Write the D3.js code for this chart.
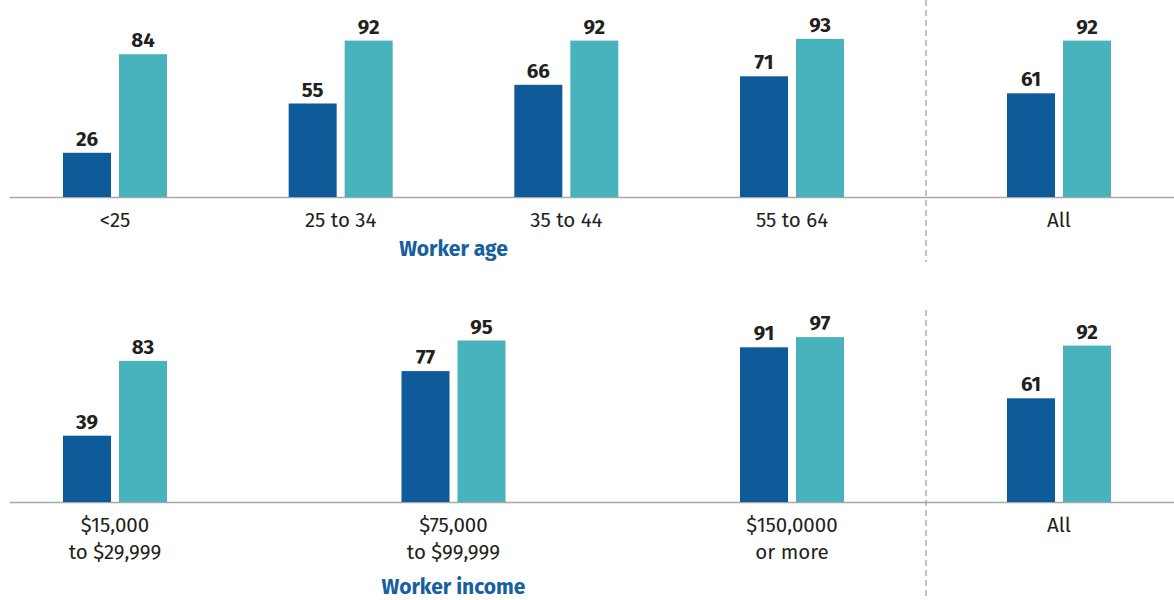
<!DOCTYPE html>
<html lang="en">
<head>
    <meta charset="utf-8"/>
    <title>Worker age and income</title>
    <script src="https://d3js.org/d3.v7.min.js"></script>
    <style>
        body { margin: 0; background: #fff; }
        svg text { font-family: "Fira Sans", Roboto, "Noto Sans", sans-serif; fill: #231f20; }
    </style>
</head>
<body>
<svg id="chart" width="1174" height="600"></svg>
<script>
    // the values
    const series = ["a", "b"];
    const ageGroups = ["<25", "25 to 34", "35 to 44", "55 to 64"];
    const ageA = [26, 55, 66, 71];
    const ageB = [84, 92, 92, 93];
    const incomeGroups = [["$15,000", "to $29,999"], ["$75,000", "to $99,999"], ["$150,0000", "or more"]];
    const incomeA = [39, 77, 91];
    const incomeB = [83, 95, 97];
    const allLabel = "All";
    const allA = [61];
    const allB = [92];

    const colors = {a: "#0f5a99", b: "#48b3bd"};
    const svg = d3.select("#chart");

    // bar height per value
    const h = d3.scaleLinear().domain([0, 100]).range([0, 170]);
    // dark/teal bars inside a group, relative to group centre
    const inner = d3.scaleBand().domain(series).range([-52, 52]).paddingInner(8 / 56);

    function panel(baseline, labels, a, b, title, titleY, divTop, divBottom) {
        const g = svg.append("g");
        const keys = labels.map((d, i) => i);
        const x = d3.scalePoint().domain(keys).range([115, 792]);
        const allX = 1059;

        const rows = keys.map(i => ({cx: x(i), label: labels[i], a: a[i], b: b[i]}));
        rows.push({cx: allX, label: allLabel, a: allA[0], b: allB[0]});

        // axis line
        g.append("line")
            .attr("x1", 10).attr("x2", 1174)
            .attr("y1", baseline + 0.5).attr("y2", baseline + 0.5)
            .attr("stroke", "#a7a7a7").attr("stroke-width", 1.5);

        // divider before "All"
        g.append("line")
            .attr("x1", 926).attr("x2", 926)
            .attr("y1", divTop).attr("y2", divBottom)
            .attr("stroke", "#9a9a9a").attr("stroke-width", 1.2)
            .attr("stroke-dasharray", "6,4");

        const bars = rows.flatMap(r => series.map(s => ({cx: r.cx, s: s, v: r[s]})));

        g.selectAll("rect.bar").data(bars).enter().append("rect")
            .attr("class", "bar")
            .attr("x", d => d.cx + inner(d.s))
            .attr("width", inner.bandwidth())
            .attr("y", d => baseline - h(d.v))
            .attr("height", d => h(d.v))
            .attr("fill", d => colors[d.s]);

        g.selectAll("text.val").data(bars).enter().append("text")
            .attr("class", "val")
            .attr("x", d => d.cx + inner(d.s) + inner.bandwidth() / 2)
            .attr("y", d => baseline - h(d.v) - 7)
            .attr("text-anchor", "middle")
            .style("font-size", "20.5px")
            .style("font-weight", "700")
            .text(d => d.v);

        const lab = g.selectAll("text.cat").data(rows).enter().append("text")
            .attr("class", "cat")
            .attr("x", d => d.cx)
            .attr("y", baseline + 30)
            .attr("text-anchor", "middle")
            .style("font-size", "20.5px");
        lab.each(function (d) {
            const lines = Array.isArray(d.label) ? d.label : [d.label];
            d3.select(this).selectAll("tspan").data(lines).enter().append("tspan")
                .attr("x", d.cx)
                .attr("dy", (l, i) => i === 0 ? 0 : 27)
                .text(l => l);
        });

        g.append("text")
            .attr("x", (x.range()[0] + x.range()[1]) / 2)
            .attr("y", titleY)
            .attr("text-anchor", "middle")
            .style("font-size", "21px")
            .style("font-weight", "700")
            .style("fill", "#17609e")
            .text(title);
    }

    panel(197, ageGroups, ageA, ageB, "Worker age", 256, 0, 262);
    panel(502, incomeGroups, incomeA, incomeB, "Worker income", 594, 310, 600);
</script>
</body>
</html>
